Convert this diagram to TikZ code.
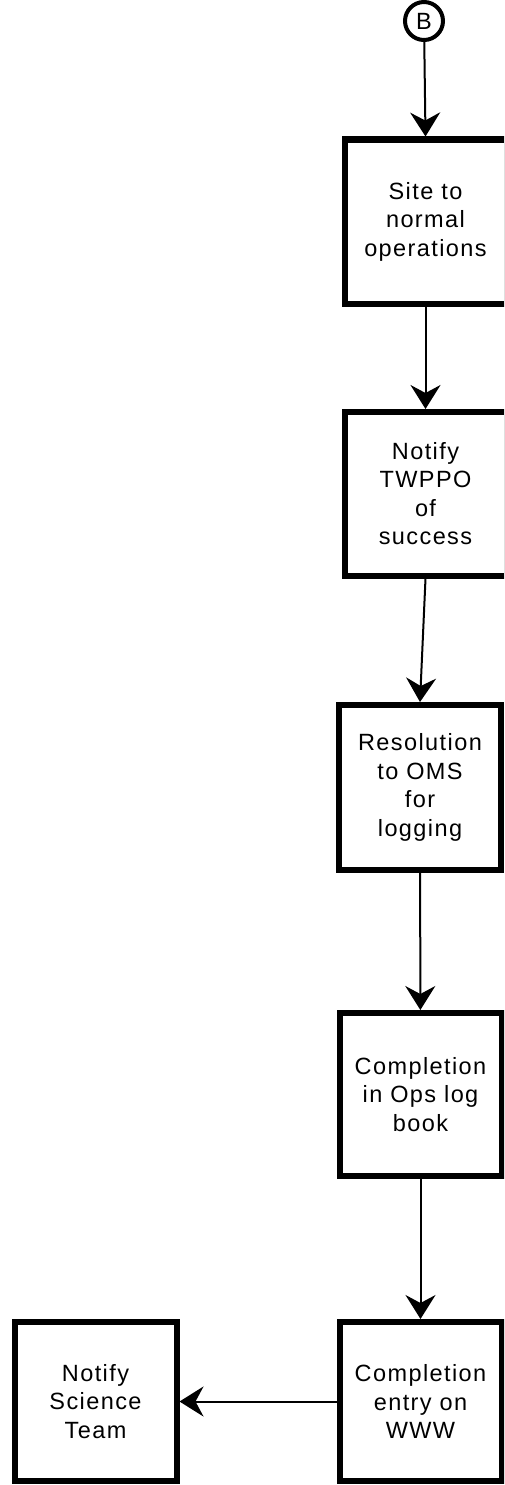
\documentclass[tikz,border=0pt]{standalone}
\usepackage{fontspec}
\setmainfont{Liberation Sans}[LetterSpace=6]
\usetikzlibrary{arrows.meta}

\begin{document}
\begin{tikzpicture}[x=1pt,y=-1pt,
  stepbox/.style={draw, line width=6pt, minimum width=162pt, inner sep=0pt,
    align=center, font=\fontsize{23.5}{28.5}\selectfont},
  connector/.style={draw, line width=2pt,
    -{Stealth[length=24pt,width=30pt,inset=8pt]}},
  marker/.style={draw, circle, line width=4pt, minimum size=38pt, inner sep=0pt,
    font=\fontsize{23.5}{28.5}\selectfont}
]
\useasboundingbox (0,0) rectangle (504,1485);
\clip (0,0) rectangle (504,1485);
\fill[white] (0,0) rectangle (504,1485);

% off-page connector
\node[marker] (B) at (424,21) {B};

% process steps
\node[stepbox, minimum height=164pt]   (site)   at (425.5,221.5)  {Site to\\normal\\operations};
\node[stepbox, minimum height=163.5pt] (twppo)  at (425.5,493.75) {Notify\\TWPPO\\of\\success};
\node[stepbox, minimum height=165pt]   (oms)    at (420,787.5)    {Resolution\\to OMS\\for\\logging};
\node[stepbox, minimum height=163pt]   (opslog) at (420.5,1094.5) {Completion\\in Ops log\\book};
\node[stepbox, minimum height=159pt]   (www)    at (420.5,1401.5) {Completion\\entry on\\WWW};
\node[stepbox, minimum height=159pt]   (sci)    at (95.5,1401.5)  {Notify\\Science\\Team};

% flow
\path[connector] (B) -- (site.north);
\path[connector] (site) -- (twppo);
\path[connector] (twppo.south) -- (oms.north);
\path[connector] (oms) -- (opslog);
\path[connector] (opslog) -- (www);
\path[connector] (www) -- (sci);
\end{tikzpicture}
\end{document}
